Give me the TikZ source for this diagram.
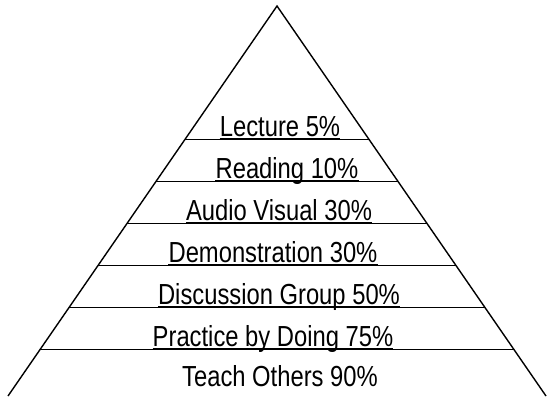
\documentclass[tikz,border=0pt]{standalone}
\usepackage{fontspec}
\setmainfont[FakeStretch=0.82]{Liberation Sans}
\usetikzlibrary{calc}

\begin{document}
\begin{tikzpicture}[x=1bp,y=-1bp,
  side/.style={line width=1.4bp},
  rule/.style={line width=0.9bp},
  uline/.style={line width=2.4bp},
  level/.style={anchor=base,inner sep=0pt,font=\fontsize{29bp}{34bp}\selectfont}]
  \useasboundingbox (0,0) rectangle (548,396);

  \coordinate (apex) at (277,6);
  \coordinate (bl) at (8,396);
  \coordinate (br) at (546,396);
  \draw[side] (bl) -- (apex) -- (br);

  % levels, top to bottom
  \node[level] (lecture)    at (280,136.5) {Lecture 5\%};
  \node[level] (reading)    at (287,178.5) {Reading 10\%};
  \node[level] (audio)      at (279,220.5) {Audio Visual 30\%};
  \node[level] (demo)       at (273,262.5) {Demonstration 30\%};
  \node[level] (discussion) at (279,304.5) {Discussion Group 50\%};
  \node[level] (practice)   at (273,346.5) {Practice by Doing 75\%};
  \node[level] (teach)      at (280,386)   {Teach Others 90\%};

  \foreach \n/\y in {lecture/139,reading/181,audio/223,demo/265,discussion/307,practice/349}{
    \draw[rule] ($(apex)!{(\y-6)/390}!(bl)$) -- ($(apex)!{(\y-6)/390}!(br)$);
    \draw[uline] ([yshift=-2.5bp]\n.base west) -- ([yshift=-2.5bp]\n.base east);
  }
\end{tikzpicture}
\end{document}
